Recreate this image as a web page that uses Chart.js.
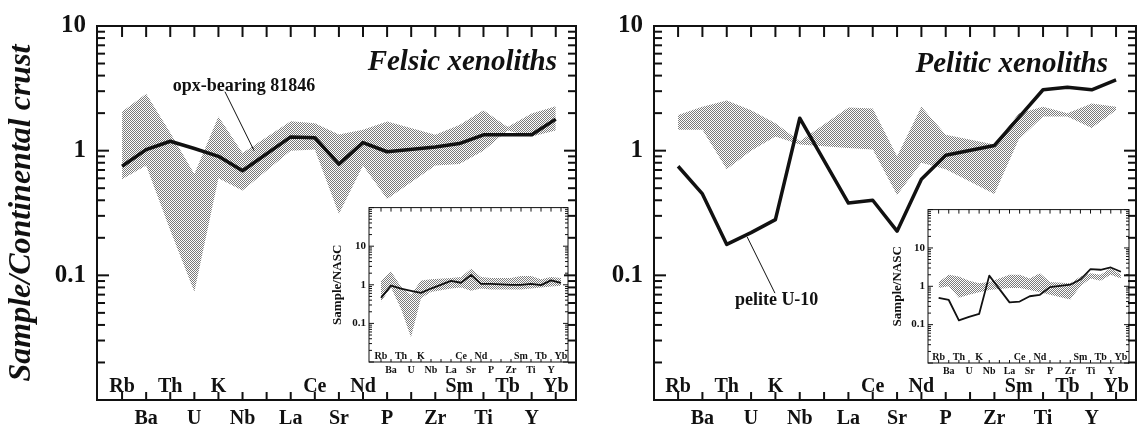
<!DOCTYPE html>
<html><head><meta charset="utf-8">
<script src="https://cdn.jsdelivr.net/npm/chart.js@4.4.1/dist/chart.umd.min.js"></script>
<style>
html,body{margin:0;padding:0;background:#fff;}
#wrap{position:relative;width:1139px;height:430px;overflow:hidden;background:#fff;}
canvas{position:absolute;}
</style></head><body>
<div id="wrap">
<canvas id="felsic" width="580" height="430" style="left:0;top:0;width:580px;height:430px"></canvas>
<canvas id="pelitic" width="559" height="430" style="left:580px;top:0;width:559px;height:430px"></canvas>
<canvas id="felsicInset" width="245" height="180" style="left:328px;top:198px;width:245px;height:180px"></canvas>
<canvas id="peliticInset" width="248" height="180" style="left:887px;top:200px;width:248px;height:180px"></canvas>
</div>
<script>
// ---- data ----
const elements = ['Rb','Ba','Th','U','K','Nb','','La','Ce','Sr','Nd','P','','Zr','Sm','Ti','Tb','Y','Yb'];
const yTickValues = [0.1, 1, 10];

// Felsic xenoliths / continental crust
const felsic81846 = [0.75,1.02,1.19,1.04,0.90,0.69,null,1.29,1.27,0.78,1.16,0.98,null,1.07,1.14,1.34,1.34,1.34,1.79];
const felsicMax   = [2.05,2.86,1.39,0.65,1.88,0.96,null,1.72,1.66,1.35,1.47,1.71,null,1.34,1.61,2.11,1.55,1.99,2.27];
const felsicMin   = [0.59,0.76,0.23,0.074,0.60,0.48,null,1.00,1.02,0.31,0.76,0.41,null,0.76,0.78,1.00,1.45,1.30,1.45];

// Felsic xenoliths / NASC (inset)
const felsicNASC    = [0.46,0.95,0.80,0.70,0.62,0.80,null,1.27,1.13,1.80,1.06,1.06,null,1.00,1.00,1.06,0.98,1.30,1.12];
const felsicNASCMax = [1.27,2.20,0.90,0.55,1.30,1.40,null,1.50,1.60,2.60,1.60,1.50,null,1.50,1.70,1.70,1.40,1.60,1.50];
const felsicNASCMin = [0.37,0.85,0.24,0.044,0.45,0.65,null,0.80,0.85,0.70,0.80,0.75,null,0.75,0.75,0.80,0.85,0.90,0.95];

// Pelitic xenoliths / continental crust
const peliteU10   = [0.75,0.45,0.177,0.22,0.28,1.82,null,0.38,0.40,0.226,0.59,0.92,null,1.10,1.84,3.08,3.23,3.08,3.69];
const peliticMax  = [1.93,2.25,2.53,2.11,1.66,1.19,null,2.22,2.18,0.90,2.25,1.34,null,1.12,1.99,2.25,2.00,2.39,2.25];
const peliticMin  = [1.47,1.47,0.71,1.00,1.30,1.12,null,1.05,1.02,0.44,0.80,0.71,null,0.45,1.23,1.88,1.88,1.52,2.11];

// Pelitic xenoliths / NASC (inset)
const peliteNASC     = [0.50,0.44,0.13,0.16,0.19,1.90,null,0.38,0.40,0.55,0.60,0.95,null,1.10,1.50,2.80,2.70,3.10,2.40];
const peliticNASCMax = [1.30,2.00,1.80,1.40,1.20,1.30,null,2.00,2.00,1.60,2.20,1.30,null,1.20,1.80,2.20,2.00,3.00,2.00];
const peliticNASCMin = [0.90,1.00,0.50,0.60,0.70,0.80,null,0.90,0.90,0.80,0.70,0.60,null,0.45,1.00,1.60,1.40,2.00,1.60];

// ---- helpers ----
const ink = '#111';
const SERIF = "'Liberation Serif', 'Times New Roman', serif";
Chart.defaults.font.family = SERIF;
Chart.defaults.color = ink;

function pts(vals){ return vals.map((v,i)=> v==null ? null : {x:i, y:v}).filter(Boolean); }

function stipple(){
  const c = document.createElement('canvas'); c.width = 2; c.height = 2;
  const g = c.getContext('2d');
  g.fillStyle = '#7a7a7a'; g.fillRect(0,0,1,1); g.fillRect(1,1,1,1);
  return g.createPattern(c, 'repeat');
}

function makeFrame(f){
  return {
    id: 'frame',
    afterDraw(chart){
      const ctx = chart.ctx, a = chart.chartArea, xs = chart.scales.x, ys = chart.scales.y;
      ctx.save();
      ctx.strokeStyle = ink; ctx.fillStyle = ink; ctx.lineCap = 'butt';
      const seg = (x1,y1,x2,y2) => { ctx.beginPath(); ctx.moveTo(x1,y1); ctx.lineTo(x2,y2); ctx.stroke(); };
      ctx.lineWidth = f.tickWidth;
      const e0 = Math.round(Math.log10(ys.min)), e1 = Math.round(Math.log10(ys.max));
      for (let e = e0; e <= e1; e++) for (let k = 1; k <= 9; k++) {
        const v = k * Math.pow(10, e);
        if (v > ys.max * 1.0001) continue;
        const py = ys.getPixelForValue(v);
        const len = k === 1 ? f.yMajor : f.yMinor;
        seg(a.left, py, a.left + len, py);
        seg(a.right, py, a.right - len, py);
      }
      for (let i = 0; i < elements.length; i++) {
        const px = xs.getPixelForValue(i);
        seg(px, a.top, px, a.top + f.xTop);
        seg(px, a.bottom, px, a.bottom - f.xBottom);
      }
      ctx.lineWidth = f.frameWidth;
      ctx.strokeRect(a.left, a.top, a.right - a.left, a.bottom - a.top);
      ctx.font = f.labelFont; ctx.textAlign = 'center'; ctx.textBaseline = 'alphabetic';
      elements.forEach((c, i) => { if (i % 2 === 0 && c) ctx.fillText(c, xs.getPixelForValue(i), a.bottom - f.labelLift); });
      (f.leaders || []).forEach(l => { ctx.lineWidth = l.width; seg(xs.getPixelForValue(l.x1), ys.getPixelForValue(l.y1), xs.getPixelForValue(l.x2), ys.getPixelForValue(l.y2)); });
      (f.notes || []).forEach(n => { ctx.font = n.font; ctx.textAlign = n.align; ctx.fillText(n.text, xs.getPixelForValue(n.x), ys.getPixelForValue(n.y)); });
      ctx.restore();
    }
  };
}

function build(id, o){
  return new Chart(document.getElementById(id), {
    type: 'line',
    data: { datasets: [
      { data: pts(o.sample), borderColor: ink, borderWidth: o.lineWidth, pointRadius: 0, fill: false, tension: 0, borderJoinStyle: 'round', borderCapStyle: 'butt' },
      { data: pts(o.max), borderColor: 'rgba(0,0,0,0)', borderWidth: 0, pointRadius: 0, tension: 0, fill: '+1', backgroundColor: stipple() },
      { data: pts(o.min), borderColor: 'rgba(0,0,0,0)', borderWidth: 0, pointRadius: 0, tension: 0, fill: false }
    ]},
    options: {
      responsive: false, animation: false, devicePixelRatio: 1,
      layout: { padding: o.padding },
      plugins: { legend: { display: false }, tooltip: { enabled: false } },
      scales: {
        x: {
          type: 'linear', min: o.xMin, max: o.xMax,
          afterBuildTicks: s => { s.ticks = elements.map((c,i)=>({value:i})).filter(t => t.value % 2 === 1 && elements[t.value]); },
          afterFit: s => { s.height = o.xHeight; },
          grid: { display: false, drawTicks: false }, border: { display: false },
          ticks: { autoSkip: false, maxRotation: 0, minRotation: 0, padding: o.xPad, color: ink,
                   font: { family: SERIF, weight: 'bold', size: o.xFont }, callback: v => elements[v] }
        },
        y: {
          type: 'logarithmic', min: o.yMin, max: o.yMax,
          afterBuildTicks: s => { s.ticks = yTickValues.map(v => ({value: v})); },
          afterFit: s => { s.width = o.yWidth; },
          grid: { display: false, drawTicks: false }, border: { display: false },
          ticks: { padding: o.yPad, color: ink, font: { family: SERIF, weight: 'bold', size: o.yFont }, callback: v => String(v) },
          title: o.yTitle ? { display: true, text: o.yTitle, color: ink, font: o.yTitleFont, padding: { top: o.yTitlePad, bottom: 0 } } : { display: false }
        }
      }
    },
    plugins: [makeFrame(o.frame)]
  });
}

// ---- main panels ----
build('felsic', {
  sample: felsic81846, max: felsicMax, min: felsicMin, lineWidth: 3.5,
  padding: { top: 21, right: 4, left: 0, bottom: 0 },
  xMin: -1.04, xMax: 18.84, xHeight: 30, xPad: 7, xFont: 20,
  yMin: 0.01, yMax: 10, yWidth: 97, yPad: 11, yFont: 25,
  yTitle: 'Sample/Continental crust', yTitleFont: { family: SERIF, weight: 'bold', style: 'italic', size: 32 }, yTitlePad: 3,
  frame: { tickWidth: 2, frameWidth: 2, yMajor: 12, yMinor: 8, xTop: 11, xBottom: 8,
    labelFont: "bold 20px " + SERIF, labelLift: 8,
    leaders: [ { x1: 4.27, y1: 2.97, x2: 5.48, y2: 1.0, width: 1 } ],
    notes: [
      { text: 'opx-bearing 81846', x: 5.06, y: 3.0, align: 'center', font: "bold 18px " + SERIF },
      { text: 'Felsic xenoliths', x: 18.05, y: 4.42, align: 'right', font: "bold italic 29px " + SERIF }
    ] }
});

build('pelitic', {
  sample: peliteU10, max: peliticMax, min: peliticMin, lineWidth: 3.5,
  padding: { top: 21, right: 3, left: 0, bottom: 0 },
  xMin: -0.99, xMax: 18.82, xHeight: 30, xPad: 7, xFont: 20,
  yMin: 0.01, yMax: 10, yWidth: 74, yPad: 11, yFont: 25,
  yTitle: null,
  frame: { tickWidth: 2, frameWidth: 2, yMajor: 12, yMinor: 8, xTop: 11, xBottom: 8,
    labelFont: "bold 20px " + SERIF, labelLift: 8,
    leaders: [ { x1: 2.84, y1: 0.203, x2: 3.98, y2: 0.072, width: 1 } ],
    notes: [
      { text: 'pelite U-10', x: 4.05, y: 0.058, align: 'center', font: "bold 18px " + SERIF },
      { text: 'Pelitic xenoliths', x: 17.67, y: 4.26, align: 'right', font: "bold italic 29px " + SERIF }
    ] }
});

// ---- insets ----
build('felsicInset', {
  sample: felsicNASC, max: felsicNASCMax, min: felsicNASCMin, lineWidth: 1.8,
  padding: { top: 7, right: 5, left: 0, bottom: 0 },
  xMin: -1.2, xMax: 18.7, xHeight: 16, xPad: 2, xFont: 10,
  yMin: 0.01, yMax: 100, yWidth: 41, yPad: 3, yFont: 11,
  yTitle: 'Sample/NASC', yTitleFont: { family: SERIF, weight: 'bold', size: 13 }, yTitlePad: 2,
  frame: { tickWidth: 1, frameWidth: 1, yMajor: 5, yMinor: 3, xTop: 4, xBottom: 3,
    labelFont: "bold 10px " + SERIF, labelLift: 3, leaders: [], notes: [] }
});

build('peliticInset', {
  sample: peliteNASC, max: peliticNASCMax, min: peliticNASCMin, lineWidth: 1.8,
  padding: { top: 8, right: 6, left: 0, bottom: 0 },
  xMin: -1.05, xMax: 18.8, xHeight: 17, xPad: 2, xFont: 10,
  yMin: 0.01, yMax: 100, yWidth: 41, yPad: 3, yFont: 11,
  yTitle: 'Sample/NASC', yTitleFont: { family: SERIF, weight: 'bold', size: 13 }, yTitlePad: 3,
  frame: { tickWidth: 1, frameWidth: 1, yMajor: 5, yMinor: 3, xTop: 4, xBottom: 3,
    labelFont: "bold 10px " + SERIF, labelLift: 3, leaders: [], notes: [] }
});
</script>
</body></html>
